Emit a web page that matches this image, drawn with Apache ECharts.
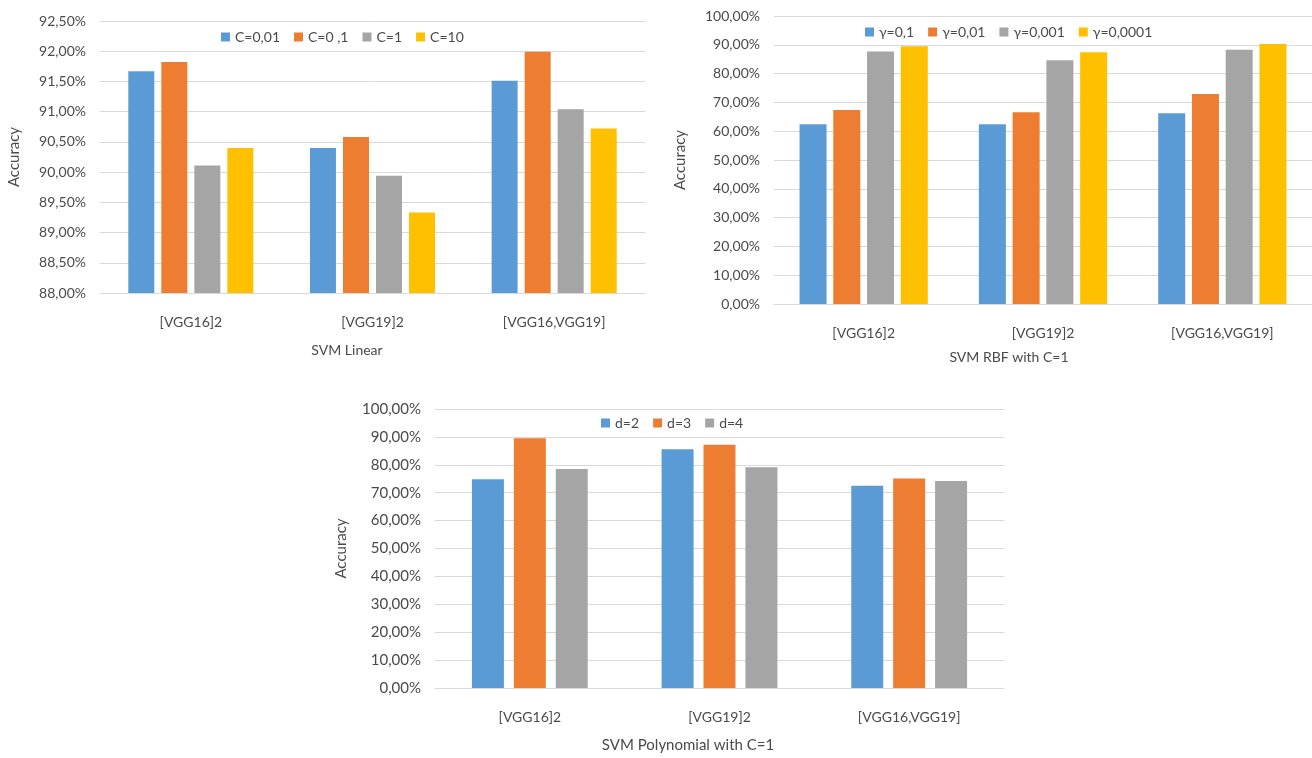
<!DOCTYPE html>
<html>
<head>
<meta charset="utf-8">
<script src="https://cdn.jsdelivr.net/npm/echarts@6/dist/echarts.min.js"></script>
<style>
html,body{margin:0;padding:0;background:#fff;}
#c{width:1312px;height:758px;}
</style>
</head>
<body>
<div id="c"></div>
<script>
var categories = ['[VGG16]2', '[VGG19]2', '[VGG16,VGG19]'];

// Chart 1: SVM Linear
var linearNames = ['C=0,01', 'C=0 ,1', 'C=1', 'C=10'];
var linearC001 = [91.67, 90.40, 91.51];
var linearC01  = [91.82, 90.58, 91.99];
var linearC1   = [90.11, 89.94, 91.04];
var linearC10  = [90.40, 89.33, 90.72];

// Chart 2: SVM RBF with C=1
var rbfNames = ['γ=0,1', 'γ=0,01', 'γ=0,001', 'γ=0,0001'];
var rbfG01    = [62.4, 62.4, 66.2];
var rbfG001   = [67.4, 66.6, 72.9];
var rbfG0001  = [87.7, 84.6, 88.3];
var rbfG00001 = [89.5, 87.4, 90.3];

// Chart 3: SVM Polynomial with C=1
var polyNames = ['d=2', 'd=3', 'd=4'];
var polyD2 = [74.8, 85.6, 72.5];
var polyD3 = [89.5, 87.2, 75.1];
var polyD4 = [78.5, 79.1, 74.2];

var colors = ['#5B9BD5', '#ED7D31', '#A5A5A5', '#FFC000'];
var FONT = 'Lato, "Open Sans", sans-serif';
var TXT = '#4a4a4a';
var GRIDC = '#D9D9D9';

function pct(v){ return v.toFixed(2).replace('.', ',') + '%'; }

function xAx(gi){
  return {
    type: 'category', gridIndex: gi, data: categories,
    axisLine: {lineStyle: {color: GRIDC, width: 1}},
    axisTick: {show: false},
    axisLabel: {color: TXT, fontFamily: FONT, fontSize: 14, margin: 22}
  };
}
function yAx(gi, min, max, interval, nameGap, fs){
  return {
    type: 'value', gridIndex: gi, min: min, max: max, interval: interval,
    name: 'Accuracy', nameLocation: 'middle', nameGap: nameGap,
    nameTextStyle: {color: TXT, fontFamily: FONT, fontSize: 15},
    axisLine: {show: false}, axisTick: {show: false},
    axisLabel: {color: TXT, fontFamily: FONT, fontSize: fs, margin: 14, formatter: pct},
    splitLine: {lineStyle: {color: GRIDC, width: 1}}
  };
}
function bars(names, datas, gi, bw, gap){
  return datas.map(function(d, i){
    return {
      type: 'bar', name: names[i], data: d, xAxisIndex: gi, yAxisIndex: gi,
      barWidth: bw, barGap: gap, itemStyle: {color: colors[i]}
    };
  });
}
function leg(names, gi, left, top){
  return {
    data: names, left: left, top: top, icon: 'rect', itemWidth: 9, itemHeight: 9,
    itemGap: 14, textStyle: {color: TXT, fontFamily: FONT, fontSize: 14}
  };
}

var series = []
  .concat(bars(linearNames, [linearC001, linearC01, linearC1, linearC10], 0, 26, '27%'))
  .concat(bars(rbfNames, [rbfG01, rbfG001, rbfG0001, rbfG00001], 1, 27, '25%'))
  .concat(bars(polyNames, [polyD2, polyD3, polyD4], 2, 32, '31%'));

var chart = echarts.init(document.getElementById('c'), null, {renderer: 'canvas'});
chart.setOption({
  backgroundColor: '#ffffff',
  animation: false,
  grid: [
    {left: 100, top: 21, width: 545, height: 272},
    {left: 774, top: 16, width: 550, height: 288},
    {left: 435, top: 409, width: 569, height: 279}
  ],
  xAxis: [xAx(0), xAx(1), xAx(2)],
  yAxis: [
    yAx(0, 88, 92.5, 0.5, 78, 14),
    yAx(1, 0, 100, 10, 86, 14),
    yAx(2, 0, 100, 10, 86, 15)
  ],
  legend: [
    leg(linearNames, 0, 216, 25),
    leg(rbfNames, 1, 860, 20),
    leg(polyNames, 2, 596, 411)
  ],
  graphic: [
    {type: 'text', x: 347, y: 350, style: {text: 'SVM Linear', textAlign: 'center', textVerticalAlign: 'middle', fill: TXT, font: '14px ' + FONT}},
    {type: 'text', x: 1009, y: 357, style: {text: 'SVM RBF with C=1', textAlign: 'center', textVerticalAlign: 'middle', fill: TXT, font: '14px ' + FONT}},
    {type: 'text', x: 688, y: 745, style: {text: 'SVM Polynomial with C=1', textAlign: 'center', textVerticalAlign: 'middle', fill: TXT, font: '15px ' + FONT}}
  ],
  series: series
});
</script>
</body>
</html>
